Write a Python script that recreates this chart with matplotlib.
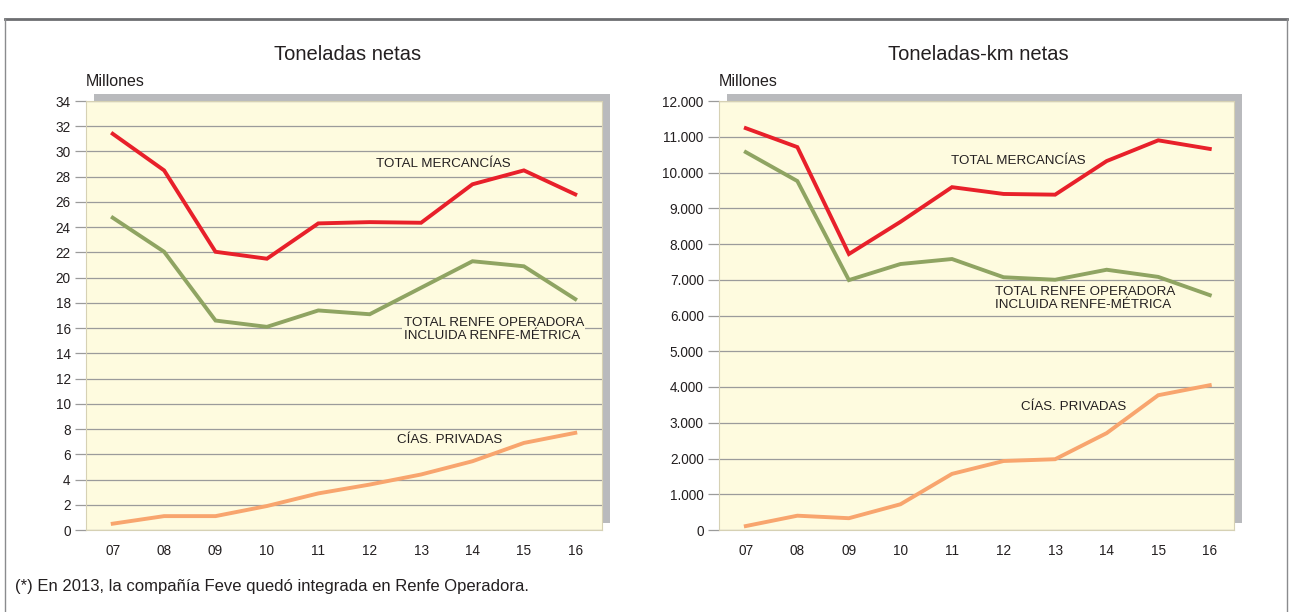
import matplotlib
matplotlib.use("Agg")
import matplotlib.pyplot as plt
from matplotlib.patches import Rectangle
from matplotlib.lines import Line2D
from matplotlib.ticker import FuncFormatter

plt.rcParams['font.family'] = ['Liberation Sans', 'DejaVu Sans']

years = ["07", "08", "09", "10", "11", "12", "13", "14", "15", "16"]

# Toneladas netas (millones)
ton_total = [31.4, 28.5, 22.05, 21.5, 24.3, 24.4, 24.35, 27.4, 28.5, 26.6]
ton_renfe = [24.75, 22.05, 16.6, 16.1, 17.4, 17.1, 19.2, 21.3, 20.9, 18.3]
ton_priv = [0.5, 1.1, 1.1, 1.9, 2.9, 3.6, 4.4, 5.45, 6.9, 7.7]

# Toneladas-km netas (millones)
tkm_total = [11240, 10710, 7720, 8620, 9590, 9400, 9380, 10320, 10900, 10660]
tkm_renfe = [10570, 9760, 6990, 7440, 7580, 7070, 7000, 7280, 7080, 6570]
tkm_priv = [110, 400, 330, 720, 1570, 1930, 1980, 2710, 3770, 4050]

ton_ticks = list(range(0, 35, 2))
tkm_ticks = list(range(0, 12001, 1000))

RED = "#e8202a"
GREEN = "#8fa462"
ORANGE = "#f8a56e"
PANEL = "#fefbdf"
GRID = "#9b9b9b"
SHADOW = "#b9babd"
TXT = "#231f20"

W, H = 1290, 612
fig = plt.figure(figsize=(W / 100, H / 100), dpi=100)
fig.patch.set_facecolor("white")


def px_rect(x0, y0, x1, y1):
    return (x0 / W, 1 - y1 / H, (x1 - x0) / W, (y1 - y0) / H)


# outer frame
fig.add_artist(Line2D([5 / W, 1287 / W], [1 - 19 / H, 1 - 19 / H], color="#6d6e71", lw=2.0))
fig.add_artist(Line2D([5 / W, 5 / W], [1 - 19 / H, 0], color="#8a8b8e", lw=1.0))
fig.add_artist(Line2D([1287 / W, 1287 / W], [1 - 19 / H, 0], color="#8a8b8e", lw=1.0))

panels = [
    dict(rect=(86, 101, 602, 530), title="Toneladas netas", tcx=348,
         total=ton_total, renfe=ton_renfe, priv=ton_priv, ticks=ton_ticks,
         ylim=(0, 34), xlim=(-0.52, 9.52),
         fmt=lambda v, p: f"{int(v)}",
         lbl_total=(5.12, 29.0), lbl_renfe=(5.66, 15.9), lbl_priv=(5.54, 7.13),
         renfe_box=True),
    dict(rect=(719, 101, 1234, 530), title="Toneladas-km netas", tcx=978,
         total=tkm_total, renfe=tkm_renfe, priv=tkm_priv, ticks=tkm_ticks,
         ylim=(0, 12000), xlim=(-0.52, 9.47),
         fmt=lambda v, p: f"{int(v):,}".replace(",", "."),
         lbl_total=(3.98, 10320), lbl_renfe=(4.83, 6475), lbl_priv=(5.33, 3440),
         renfe_box=False),
]

for P in panels:
    x0, y0, x1, y1 = P["rect"]
    # shadow
    fig.add_artist(Rectangle(((x0 + 8) / W, 1 - (y1 - 7) / H),
                             (x1 - x0) / W, (y1 - y0) / H,
                             transform=fig.transFigure, facecolor=SHADOW, edgecolor="none", zorder=0))
    ax = fig.add_axes(px_rect(x0, y0, x1, y1))
    ax.set_facecolor(PANEL)
    ax.set_zorder(1)
    xs = list(range(len(years)))
    ax.plot(xs, P["total"], color=RED, lw=2.8, solid_joinstyle="miter", zorder=3)
    ax.plot(xs, P["renfe"], color=GREEN, lw=2.8, solid_joinstyle="miter", zorder=3)
    ax.plot(xs, P["priv"], color=ORANGE, lw=2.8, solid_joinstyle="miter", zorder=3)
    ax.set_xlim(*P["xlim"])
    ax.set_ylim(*P["ylim"])
    ax.set_yticks(P["ticks"])
    ax.yaxis.set_major_formatter(FuncFormatter(P["fmt"]))
    ax.set_xticks(xs)
    ax.set_xticklabels(years)
    ax.grid(axis="y", color=GRID, lw=0.9)
    ax.set_axisbelow(True)
    ax.tick_params(axis="y", length=8, color=GRID, width=0.9, pad=3, labelsize=9.8, labelcolor=TXT)
    ax.tick_params(axis="x", length=0, pad=10, labelsize=9.8, labelcolor=TXT)
    for s in ax.spines.values():
        s.set_color("#d6d1b4")
        s.set_linewidth(0.8)
    ax.text(*P["lbl_total"], "TOTAL MERCANCÍAS", fontsize=9.6, color=TXT, ha="left", va="center", zorder=4)
    kw = {}
    if P["renfe_box"]:
        kw["bbox"] = dict(facecolor=PANEL, edgecolor="none", pad=1.0)
    ax.text(*P["lbl_renfe"], "TOTAL RENFE OPERADORA\nINCLUIDA RENFE-MÉTRICA", fontsize=9.6,
            color=TXT, ha="left", va="center", linespacing=1.1, zorder=4, **kw)
    ax.text(*P["lbl_priv"], "CÍAS. PRIVADAS", fontsize=9.6, color=TXT, ha="left", va="center", zorder=4)
    fig.text(x0 / W, 1 - 82 / H, "Millones", fontsize=11.5, color=TXT, ha="left", va="center")
    fig.text(P["tcx"] / W, 1 - 54 / H, P["title"], fontsize=14.5, color=TXT, ha="center", va="center")

fig.text(15 / W, 1 - 587 / H, "(*) En 2013, la compañía Feve quedó integrada en Renfe Operadora.",
         fontsize=12, color=TXT, ha="left", va="center")

fig.savefig("out.png", dpi=100)
